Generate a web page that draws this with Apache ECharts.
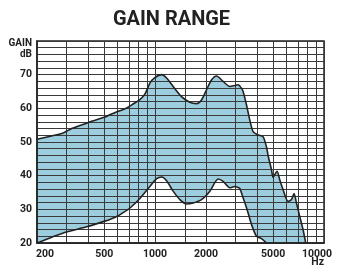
<!DOCTYPE html>
<html>
<head>
<meta charset="utf-8">
<script src="https://cdn.jsdelivr.net/npm/echarts@6/dist/echarts.min.js"></script>
<style>
html,body{margin:0;padding:0;background:#fff;}
#c{width:343px;height:271px;}
</style>
</head>
<body>
<div id="c"></div>
<script>
// ---- data ----
const chartTitle = 'GAIN RANGE';
const xTickLabels = [200, 500, 1000, 2000, 5000, 10000];
const xGridLines = [300, 400, 500, 600, 700, 800, 900, 1000, 1500, 2000, 3000, 4000, 5000, 6000, 7000, 8000, 9000, 10000];
const yTickLabels = [20, 30, 40, 50, 60, 70];

const upperFreq = [200, 286, 321, 393, 505, 540, 605, 679, 742, 813, 870, 932, 997, 1093, 1170, 1279, 1434, 1606, 1760, 1884, 2016, 2158, 2310, 2528, 2770, 2965, 3100, 3246, 3320, 3478, 3637, 3804, 4072, 4358, 4566, 4666, 4886, 4994, 5272, 5470, 5720, 6126, 6416, 6648, 6868, 7184, 7514, 7796];
const upperGain = [50.8, 52.7, 54.0, 55.6, 57.4, 58.1, 59.1, 60.1, 61.3, 62.6, 64.2, 67.5, 69.1, 70.0, 69.0, 66.5, 63.5, 61.8, 61.4, 62.5, 65.5, 68.4, 69.6, 68.0, 66.5, 66.8, 67.0, 66.0, 65.0, 61.0, 56.5, 53.1, 52.1, 51.6, 48.5, 46.0, 41.8, 39.5, 41.3, 38.8, 35.9, 32.4, 32.9, 34.7, 31.9, 27.9, 24.0, 20.0];

const lowerFreq = [200, 286, 393, 505, 540, 605, 647, 710, 813, 932, 1021, 1093, 1170, 1279, 1402, 1536, 1680, 1884, 2110, 2362, 2528, 2770, 2965, 3100, 3172, 3320, 3398, 3555, 3722, 3984, 4264, 4566];
const lowerGain = [20.0, 23.0, 24.8, 26.5, 27.0, 28.1, 29.0, 30.4, 33.2, 36.8, 39.1, 39.6, 38.5, 35.4, 32.9, 31.6, 31.9, 32.9, 35.4, 39.0, 38.3, 36.4, 36.8, 36.5, 36.2, 33.4, 32.0, 28.9, 25.5, 22.0, 21.3, 20.0];

// ---- build series data ----
const upperData = upperFreq.map((f, i) => [f, upperGain[i]]);
const lowerData = lowerFreq.map((f, i) => [f, lowerGain[i]]);

const LABEL_FONT = "Roboto, 'Liberation Sans', Arial, sans-serif";
const LABEL_SIZE = 10.5;
const GRID_COLOR = '#3a3a3a';
const FILL = '#9ccee0';

const chart = echarts.init(document.getElementById('c'), null, {renderer: 'canvas'});
chart.setOption({
  animation: false,
  backgroundColor: '#fff',
  title: {
    text: chartTitle,
    left: 'center',
    top: 10,
    padding: 0,
    textStyle: {fontFamily: 'Roboto', fontWeight: 'bold', fontSize: 20, color: '#222'}
  },
  grid: {left: 37, right: 19, top: 41, bottom: 28, containLabel: false, outerBoundsMode: 'none', show: true, borderColor: '#222', borderWidth: 1.5, z: 3},
  xAxis: {
    type: 'log', logBase: 10, min: 200, max: 10000,
    z: 3,
    name: 'Hz', nameLocation: 'end', nameGap: 0, nameMoveOverlap: false,
    nameTextStyle: {fontFamily: LABEL_FONT, fontWeight: 'bold', fontSize: LABEL_SIZE, color: '#222', align: 'right', verticalAlign: 'top', padding: [14, 0, 0, 0]},
    axisLine: {show: true, lineStyle: {color: '#222', width: 1.5}},
    axisTick: {show: false},
    splitLine: {show: false},
    axisLabel: {
      customValues: xTickLabels,
      margin: 6,
      fontFamily: LABEL_FONT, fontWeight: 'bold', fontSize: LABEL_SIZE, color: '#222',
      formatter: function (v) {
        if (v === xTickLabels[0]) return '{first|' + v + '}';
        if (v === xTickLabels[xTickLabels.length - 1]) return '{last|' + v + '}';
        return String(v);
      },
      rich: {
        first: {fontFamily: LABEL_FONT, fontWeight: 'bold', fontSize: LABEL_SIZE, color: '#222', padding: [0, 0, 0, 16]},
        last: {fontFamily: LABEL_FONT, fontWeight: 'bold', fontSize: LABEL_SIZE, color: '#222', padding: [0, 14, 0, 0]}
      }
    }
  },
  yAxis: {
    type: 'value', min: 20, max: 80, interval: 2,
    z: 3,
    name: 'GAIN\ndB', nameLocation: 'end', nameGap: 3, nameMoveOverlap: false,
    nameTextStyle: {fontFamily: LABEL_FONT, fontWeight: 'bold', fontSize: 10, color: '#222', align: 'right', verticalAlign: 'top', lineHeight: 11, padding: [0, 5, 0, 0]},
    axisLine: {show: true, lineStyle: {color: '#222', width: 1.5}},
    axisTick: {show: false},
    splitLine: {show: true, lineStyle: {color: GRID_COLOR, width: 1}},
    axisLabel: {
      margin: 5,
      fontFamily: LABEL_FONT, fontWeight: 'bold', fontSize: LABEL_SIZE, color: '#222',
      formatter: function (v) { return yTickLabels.indexOf(v) >= 0 ? String(v) : ''; }
    }
  },
  series: [
    {
      name: 'upperArea', type: 'line', data: upperData, z: 1,
      smooth: 0.25, showSymbol: false, silent: true,
      lineStyle: {width: 0, opacity: 0},
      areaStyle: {color: FILL, opacity: 1, origin: 'start'},
      markLine: {
        silent: true, symbol: 'none', z: 3, animation: false,
        label: {show: false},
        lineStyle: {type: 'solid', color: GRID_COLOR, width: 1},
        emphasis: {disabled: true},
        data: xGridLines.map(v => ({xAxis: v}))
      }
    },
    {
      name: 'lowerArea', type: 'line', data: lowerData, z: 1.5,
      smooth: 0.25, showSymbol: false, silent: true,
      lineStyle: {width: 0, opacity: 0},
      areaStyle: {color: '#ffffff', opacity: 1, origin: 'start'}
    },
    {
      name: 'upper', type: 'line', data: upperData, z: 4,
      smooth: 0.25, showSymbol: false, silent: true,
      lineStyle: {color: '#222', width: 1.6}
    },
    {
      name: 'lower', type: 'line', data: lowerData, z: 4,
      smooth: 0.25, showSymbol: false, silent: true,
      lineStyle: {color: '#222', width: 1.6}
    }
  ]
});
</script>
</body>
</html>
